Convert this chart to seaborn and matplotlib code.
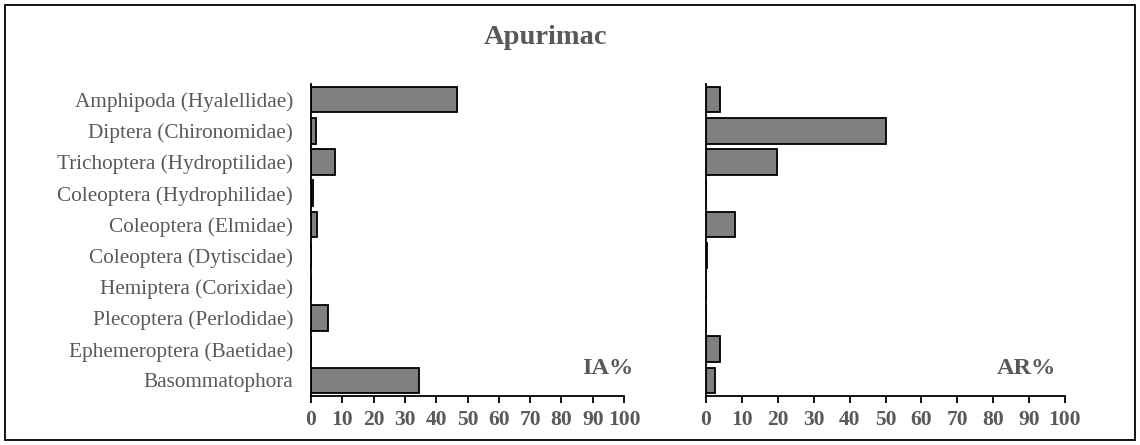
import matplotlib
matplotlib.use("Agg")
import matplotlib.pyplot as plt
import seaborn as sns
import pandas as pd
from matplotlib.patches import Rectangle

categories = [
    "Amphipoda (Hyalellidae)",
    "Diptera (Chironomidae)",
    "Trichoptera (Hydroptilidae)",
    "Coleoptera (Hydrophilidae)",
    "Coleoptera (Elmidae)",
    "Coleoptera (Dytiscidae)",
    "Hemiptera (Corixidae)",
    "Plecoptera (Perlodidae)",
    "Ephemeroptera (Baetidae)",
    "Basommatophora",
]
ia_values = [46.5, 1.6, 7.7, 0.5, 2.0, 0.0, 0.0, 5.4, 0.0, 34.6]
ar_values = [3.8, 50.2, 19.7, 0.0, 8.1, 0.3, 0.0, 0.0, 3.8, 2.6]
x_ticks = [0, 10, 20, 30, 40, 50, 60, 70, 80, 90, 100]
title = "Apurimac"

sns.set_theme(style="white")
plt.rcParams["font.family"] = ["Liberation Serif", "DejaVu Serif"]

text_gray = "#595959"
bar_gray = "#808080"

df = pd.DataFrame({"taxon": categories, "IA%": ia_values, "AR%": ar_values})

fig = plt.figure(figsize=(11.4, 4.45), dpi=100)
W, H = 1140, 445

def add_axes_px(x0, x1, y0, y1):
    return fig.add_axes([x0 / W, 1 - y1 / H, (x1 - x0) / W, (y1 - y0) / H])

ax_left = add_axes_px(311, 624, 84, 396)
ax_right = add_axes_px(706, 1065, 84, 396)

for ax, col, show_labels, label_x in [(ax_left, "IA%", True, 633),
                                       (ax_right, "AR%", False, 1056)]:
    sns.barplot(data=df, y="taxon", x=col, ax=ax, color=bar_gray,
                saturation=1, width=0.82, edgecolor="black", linewidth=1.3,
                orient="h")
    ax.set_xlim(0, 100)
    ax.set_xticks(x_ticks)
    ax.set_xticklabels([str(t) for t in x_ticks], fontsize=15.5,
                       fontweight="bold", color=text_gray)
    ax.tick_params(axis="x", direction="out", length=5, width=1.3,
                   color="black", pad=5, bottom=True)
    ax.tick_params(axis="y", length=0, pad=13)
    ax.set_xlabel("")
    ax.set_ylabel("")
    for side in ["top", "right"]:
        ax.spines[side].set_visible(False)
    for side in ["left", "bottom"]:
        ax.spines[side].set_color("black")
        ax.spines[side].set_linewidth(1.3)
    if show_labels:
        ax.set_yticklabels(categories, fontsize=15.3, color=text_gray)
    else:
        ax.set_yticklabels([])
    fig.text(label_x / W, 1 - 368 / H, col, ha="right", va="center",
             fontsize=17.5, fontweight="bold", color=text_gray)

fig.text(546 / W, 1 - 37 / H, title, ha="center", va="center",
         fontsize=20.5, fontweight="bold", color=text_gray)

fig.patches.append(Rectangle((5 / W, 5 / H), 1130 / W, 435 / H,
                             transform=fig.transFigure, fill=False,
                             edgecolor="black", linewidth=1.3))

fig.savefig("out.png", dpi=100)
